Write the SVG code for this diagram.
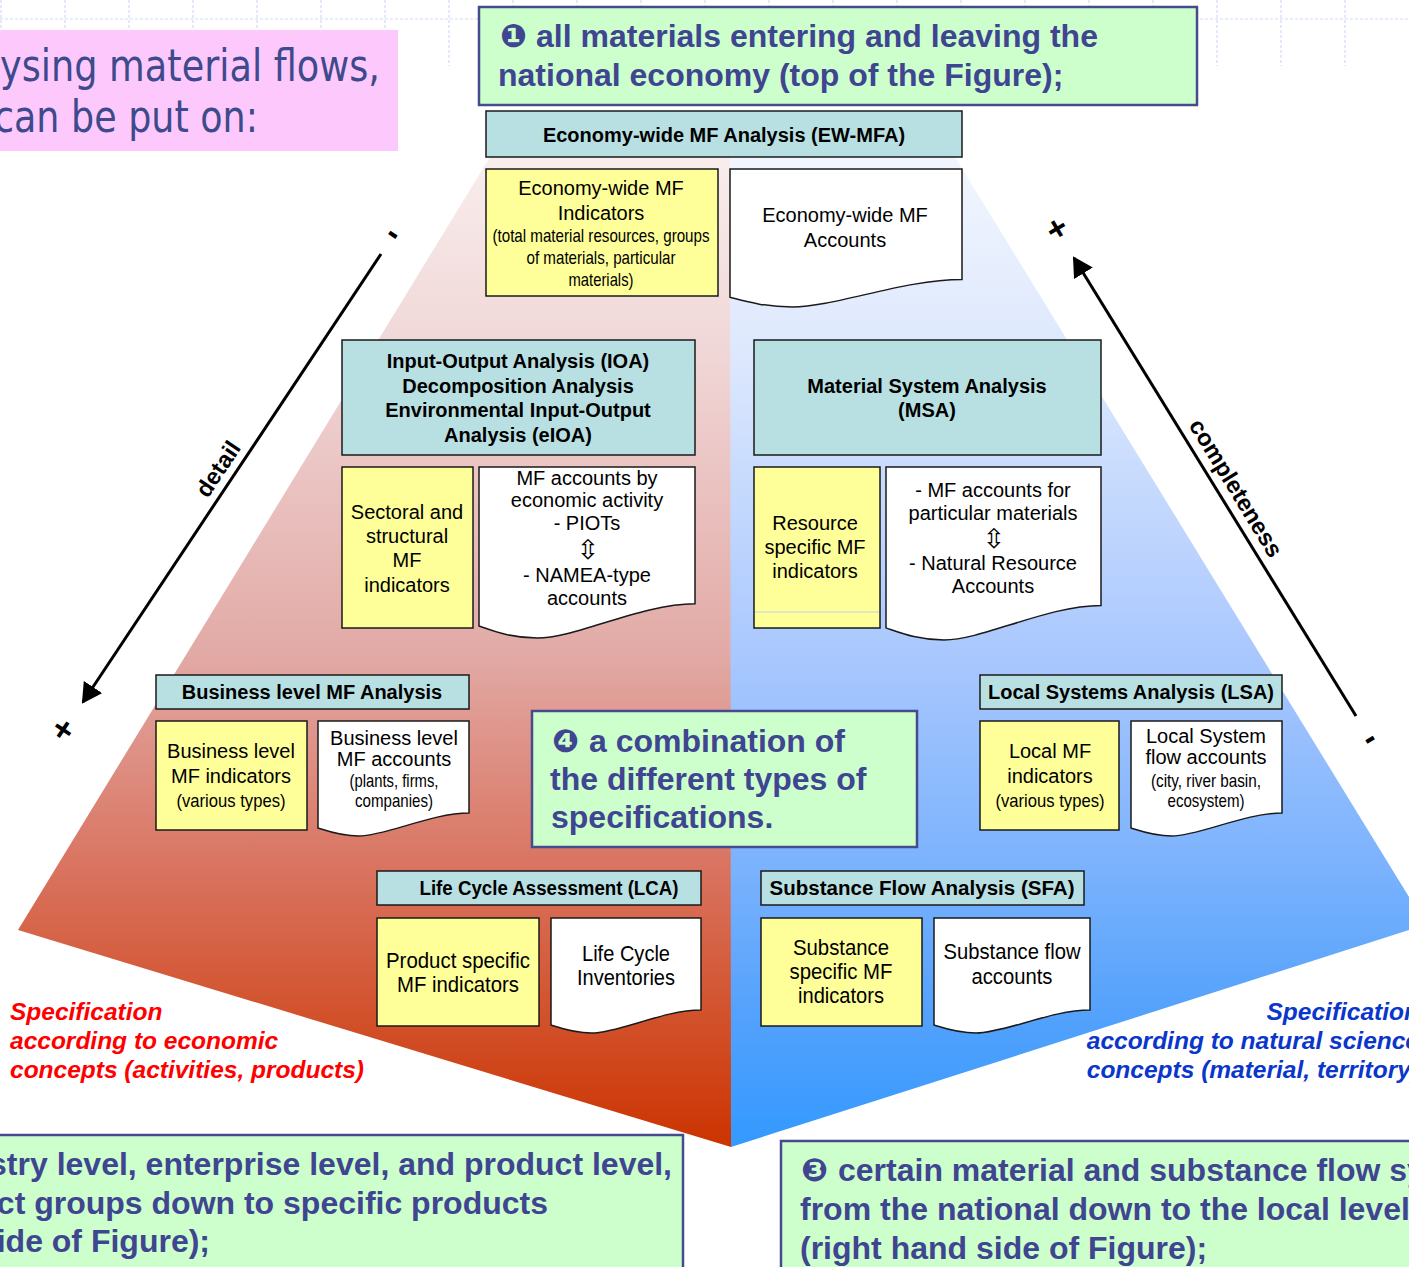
<svg xmlns="http://www.w3.org/2000/svg" width="1409" height="1267" viewBox="0 0 1409 1267">
<defs>
<linearGradient id="gRed" gradientUnits="userSpaceOnUse" x1="0" y1="157" x2="0" y2="1147">
<stop offset="0" stop-color="#f9eded"/>
<stop offset="0.2" stop-color="#f0d6d6"/>
<stop offset="0.5" stop-color="#e2aaa6"/>
<stop offset="0.72" stop-color="#d9735f"/>
<stop offset="0.86" stop-color="#d2532e"/>
<stop offset="1" stop-color="#cc3300"/>
</linearGradient>
<linearGradient id="gBlue" gradientUnits="userSpaceOnUse" x1="0" y1="157" x2="0" y2="1147">
<stop offset="0" stop-color="#f2f6fe"/>
<stop offset="0.2" stop-color="#dde8fd"/>
<stop offset="0.5" stop-color="#aac8fe"/>
<stop offset="0.72" stop-color="#7ab2fd"/>
<stop offset="0.86" stop-color="#55a2fc"/>
<stop offset="1" stop-color="#3399ff"/>
</linearGradient>
<marker id="ah" markerUnits="userSpaceOnUse" viewBox="0 0 20 22" markerWidth="20" markerHeight="22" refX="18" refY="11" orient="auto">
<path d="M0,0 L20,11 L0,22 Z" fill="#000"/>
</marker>
</defs>
<style>
.grid{stroke:#d2dbf4;stroke-width:1.2;stroke-dasharray:3 2;fill:none}
.hdr{fill:#b8e0e3;stroke:#1a1a1a;stroke-width:1.5}
.ind{fill:#ffff99;stroke:#1a1a1a;stroke-width:1.5}
.doc{fill:#ffffff;stroke:#1a1a1a;stroke-width:1.5}
.note{fill:#ccffcc;stroke:#454b8d;stroke-width:2.5}
.t{font-family:'Liberation Sans',Arial,sans-serif;font-size:20px;text-anchor:middle;fill:#000}
.b{font-weight:bold}
.n{font-size:19px}
.m{font-size:22px}
.arr{font-family:'DejaVu Sans',sans-serif;font-size:27px;text-anchor:middle;fill:#000}
.nt{font-family:'Liberation Sans',Arial,sans-serif;font-weight:bold;font-size:32px;fill:#3f4590}
.dg{font-family:'DejaVu Sans',sans-serif;font-weight:bold;font-size:32px;fill:#3f4590}
.pk{font-family:'DejaVu Sans Condensed','DejaVu Sans',sans-serif;font-size:44px;fill:#3d4a8c}
.spec{font-family:'Liberation Sans',Arial,sans-serif;font-weight:bold;font-style:italic;font-size:24.5px}
.lab{font-family:'Liberation Sans',Arial,sans-serif;font-weight:bold;font-size:23.5px;fill:#000;text-anchor:middle}
.pm{font-family:'Liberation Sans',Arial,sans-serif;font-weight:bold;font-size:34px;fill:#000;text-anchor:middle}
.line{stroke:#000;stroke-width:3;fill:none}
</style>
<rect x="0" y="0" width="1409" height="1267" fill="#ffffff"/>
<g id="grid">
<path class="grid" d="M0,19 H1409 M1,0 V66 M65,0 V66 M129,0 V66 M193,0 V66 M257,0 V66 M321,0 V66 M385,0 V66 M449,0 V66 M513,0 V66 M577,0 V66 M641,0 V66 M705,0 V66 M769,0 V66 M833,0 V66 M897,0 V66 M961,0 V66 M1025,0 V66 M1089,0 V66 M1153,0 V66 M1217,0 V66 M1281,0 V66 M1345,0 V66"/>
</g>
<g id="intro">
<rect x="-2" y="30" width="400" height="121" fill="#fdc9fd"/>
<text class="pk" x="0" y="81" textLength="380" lengthAdjust="spacingAndGlyphs">ysing material flows,</text>
<text class="pk" x="-6" y="132" textLength="264" lengthAdjust="spacingAndGlyphs">can be put on:</text>
</g>
<g id="note1">
<rect class="note" x="479" y="7" width="718" height="98"/>
<text class="nt" y="47"><tspan class="dg" x="500">❶</tspan><tspan x="536">all materials entering and leaving the</tspan></text>
<text class="nt" x="498" y="86">national economy (top of the Figure);</text>
</g>
<g id="pyramid">
<polygon points="490,157 731,157 731,1147 18,930" fill="url(#gRed)"/>
<polygon points="730,157 955,157 1409,897 1409,930 731,1147" fill="url(#gBlue)"/>
</g>
<g id="connectors">
<line class="line" x1="381" y1="254" x2="83" y2="702" marker-end="url(#ah)"/>
<line class="line" x1="1356" y1="716" x2="1074" y2="258" marker-end="url(#ah)"/>
<text class="lab" transform="translate(218,469) rotate(-56.3)" y="8">detail</text>
<text class="lab" transform="translate(1236,488) rotate(58.6)" y="8">completeness</text>
<text class="pm" transform="translate(394,233) rotate(34)" y="11">-</text>
<text class="pm" transform="translate(63,730) rotate(34)" y="11">+</text>
<text class="pm" transform="translate(1057,229) rotate(-31)" y="11">+</text>
<text class="pm" transform="translate(1369,738) rotate(-31)" y="11">-</text>
</g>
<g id="ewmfa">
<rect class="hdr" x="486" y="111" width="476" height="46"/>
<text class="t b" x="724" y="142">Economy-wide MF Analysis (EW-MFA)</text>
</g>
<g id="ew-indicators">
<rect class="ind" x="486" y="169" width="232" height="127"/>
<text class="t" x="601" y="195">Economy-wide MF</text>
<text class="t" x="601" y="220">Indicators</text>
<text class="t n" x="601" y="242" textLength="217" lengthAdjust="spacingAndGlyphs">(total material resources, groups</text>
<text class="t n" x="601" y="264" textLength="149" lengthAdjust="spacingAndGlyphs">of materials, particular</text>
<text class="t n" x="601" y="286" textLength="65" lengthAdjust="spacingAndGlyphs">materials)</text>
</g>
<g id="ew-accounts">
<path class="doc" d="M730,169 H962 V279.4 C904,279.4 834.4,307 792.6,307 C764.8,307 746.2,301.5 730,297.3 Z"/>
<text class="t" x="845" y="222">Economy-wide MF</text>
<text class="t" x="845" y="247">Accounts</text>
</g>
<g id="ioa">
<rect class="hdr" x="342" y="340" width="353" height="115"/>
<text class="t b" x="518" y="368">Input-Output Analysis (IOA)</text>
<text class="t b" x="518" y="393">Decomposition Analysis</text>
<text class="t b" x="518" y="417">Environmental Input-Output</text>
<text class="t b" x="518" y="442">Analysis (eIOA)</text>
</g>
<g id="ioa-indicators">
<rect class="ind" x="342" y="467" width="131" height="161"/>
<text class="t" x="407" y="519">Sectoral and</text>
<text class="t" x="407" y="543">structural</text>
<text class="t" x="407" y="567">MF</text>
<text class="t" x="407" y="592">indicators</text>
</g>
<g id="ioa-accounts">
<path class="doc" d="M479,467 H695 V603.8 C641,603.8 576.2,638 537.3,638 C511.4,638 494.1,631.2 479,626 Z"/>
<text class="t" x="587" y="485">MF accounts by</text>
<text class="t" x="587" y="507">economic activity</text>
<text class="t" x="587" y="530">- PIOTs</text>
<text class="arr" x="588" y="559">⇳</text>
<text class="t" x="587" y="582">- NAMEA-type</text>
<text class="t" x="587" y="605">accounts</text>
</g>
<g id="msa">
<rect class="hdr" x="754" y="340" width="347" height="115"/>
<text class="t b" x="927" y="393">Material System Analysis</text>
<text class="t b" x="927" y="417">(MSA)</text>
</g>
<g id="msa-indicators">
<rect class="ind" x="754" y="467" width="126" height="161"/>
<line x1="755" y1="612" x2="879" y2="612" stroke="#c4cfe8" stroke-width="1"/>
<text class="t" x="815" y="530">Resource</text>
<text class="t" x="815" y="554">specific MF</text>
<text class="t" x="815" y="578">indicators</text>
</g>
<g id="msa-accounts">
<path class="doc" d="M886,467 H1101 V605.4 C1047.3,605.4 982.8,640 944,640 C918.3,640 901,633 886,627.9 Z"/>
<text class="t" x="993" y="497">- MF accounts for</text>
<text class="t" x="993" y="520">particular materials</text>
<text class="arr" x="994" y="548">⇳</text>
<text class="t" x="993" y="570">- Natural Resource</text>
<text class="t" x="993" y="593">Accounts</text>
</g>
<g id="business">
<rect class="hdr" x="156" y="675" width="313" height="34"/>
<text class="t b" x="312" y="699">Business level MF Analysis</text>
</g>
<g id="business-indicators">
<rect class="ind" x="156" y="721" width="151" height="109"/>
<text class="t" x="231" y="758">Business level</text>
<text class="t" x="231" y="783">MF indicators</text>
<text class="t n" x="231" y="807" textLength="109" lengthAdjust="spacingAndGlyphs">(various types)</text>
</g>
<g id="business-accounts">
<path class="doc" d="M318,721 H469 V813 C431.3,813 386,836 358.8,836 C340.7,836 328.6,831.4 318,828 Z"/>
<text class="t" x="394" y="745">Business level</text>
<text class="t" x="394" y="766">MF accounts</text>
<text class="t n" x="394" y="787" textLength="89" lengthAdjust="spacingAndGlyphs">(plants, firms,</text>
<text class="t n" x="394" y="807" textLength="78" lengthAdjust="spacingAndGlyphs">companies)</text>
</g>
<g id="note4">
<rect class="note" x="532" y="711" width="385" height="136"/>
<text class="nt" y="752"><tspan class="dg" x="552">❹</tspan><tspan x="589">a combination of</tspan></text>
<text class="nt" x="550" y="790">the different types of</text>
<text class="nt" x="551" y="828">specifications.</text>
</g>
<g id="lsa">
<rect class="hdr" x="980" y="675" width="302" height="34"/>
<text class="t b" x="1131" y="699">Local Systems Analysis (LSA)</text>
</g>
<g id="lsa-indicators">
<rect class="ind" x="980" y="721" width="139" height="109"/>
<text class="t" x="1050" y="758">Local MF</text>
<text class="t" x="1050" y="783">indicators</text>
<text class="t n" x="1050" y="807" textLength="109" lengthAdjust="spacingAndGlyphs">(various types)</text>
</g>
<g id="lsa-accounts">
<path class="doc" d="M1131,721 H1282 V813 C1244.3,813 1199,836 1171.8,836 C1153.7,836 1141.6,831.4 1131,828 Z"/>
<text class="t" x="1206" y="743">Local System</text>
<text class="t" x="1206" y="764">flow accounts</text>
<text class="t n" x="1206" y="787" textLength="110" lengthAdjust="spacingAndGlyphs">(city, river basin,</text>
<text class="t n" x="1206" y="807" textLength="77" lengthAdjust="spacingAndGlyphs">ecosystem)</text>
</g>
<g id="lca">
<rect class="hdr" x="377" y="871" width="324" height="34"/>
<text class="t b" x="549" y="895" textLength="259" lengthAdjust="spacingAndGlyphs">Life Cycle Assessment (LCA)</text>
</g>
<g id="lca-indicators">
<rect class="ind" x="377" y="918" width="162" height="108"/>
<text class="t m" x="458" y="968" textLength="144" lengthAdjust="spacingAndGlyphs">Product specific</text>
<text class="t m" x="458" y="992" textLength="122" lengthAdjust="spacingAndGlyphs">MF indicators</text>
</g>
<g id="lca-accounts">
<path class="doc" d="M551,918 H701 V1010 C663.5,1010 618.5,1033 591.5,1033 C573.5,1033 561.5,1028.4 551,1025 Z"/>
<text class="t m" x="626" y="961" textLength="88" lengthAdjust="spacingAndGlyphs">Life Cycle</text>
<text class="t m" x="626" y="985" textLength="98" lengthAdjust="spacingAndGlyphs">Inventories</text>
</g>
<g id="sfa">
<rect class="hdr" x="761" y="871" width="323" height="34"/>
<text class="t b" x="922" y="895" textLength="305" lengthAdjust="spacingAndGlyphs">Substance Flow Analysis (SFA)</text>
</g>
<g id="sfa-indicators">
<rect class="ind" x="761" y="918" width="161" height="108"/>
<text class="t m" x="841" y="955" textLength="96" lengthAdjust="spacingAndGlyphs">Substance</text>
<text class="t m" x="841" y="979" textLength="103" lengthAdjust="spacingAndGlyphs">specific MF</text>
<text class="t m" x="841" y="1003" textLength="86" lengthAdjust="spacingAndGlyphs">indicators</text>
</g>
<g id="sfa-accounts">
<path class="doc" d="M934,918 H1090 V1010 C1051,1010 1004.2,1033 976.1,1033 C957.4,1033 944.9,1028.4 934,1025 Z"/>
<text class="t m" x="1012" y="959" textLength="137" lengthAdjust="spacingAndGlyphs">Substance flow</text>
<text class="t m" x="1012" y="984" textLength="81" lengthAdjust="spacingAndGlyphs">accounts</text>
</g>
<g id="spec-economic">
<text class="spec" fill="#ff0000" x="10" y="1020">Specification</text>
<text class="spec" fill="#ff0000" x="10" y="1049">according to economic</text>
<text class="spec" fill="#ff0000" x="10" y="1078">concepts (activities, products)</text>
</g>
<g id="spec-natural">
<text class="spec" fill="#0a36cc" x="1419" y="1020" text-anchor="end">Specification</text>
<text class="spec" fill="#0a36cc" x="1419" y="1049" text-anchor="end">according to natural science</text>
<text class="spec" fill="#0a36cc" x="1419" y="1078" text-anchor="end">concepts (material, territory)</text>
</g>
<g id="note2">
<rect class="note" x="-5" y="1135" width="688" height="140"/>
<text class="nt" x="672" y="1175" text-anchor="end">stry level, enterprise level, and product level,</text>
<text class="nt" x="548" y="1214" text-anchor="end">ct groups down to specific products</text>
<text class="nt" x="210" y="1252" text-anchor="end">ide of Figure);</text>
</g>
<g id="note3">
<rect class="note" x="781" y="1141" width="640" height="140"/>
<text class="nt" y="1181"><tspan class="dg" x="801">❸</tspan><tspan x="838">certain material and substance flow sy</tspan></text>
<text class="nt" x="800" y="1220">from the national down to the local level</text>
<text class="nt" x="800" y="1259">(right hand side of Figure);</text>
</g>
</svg>
